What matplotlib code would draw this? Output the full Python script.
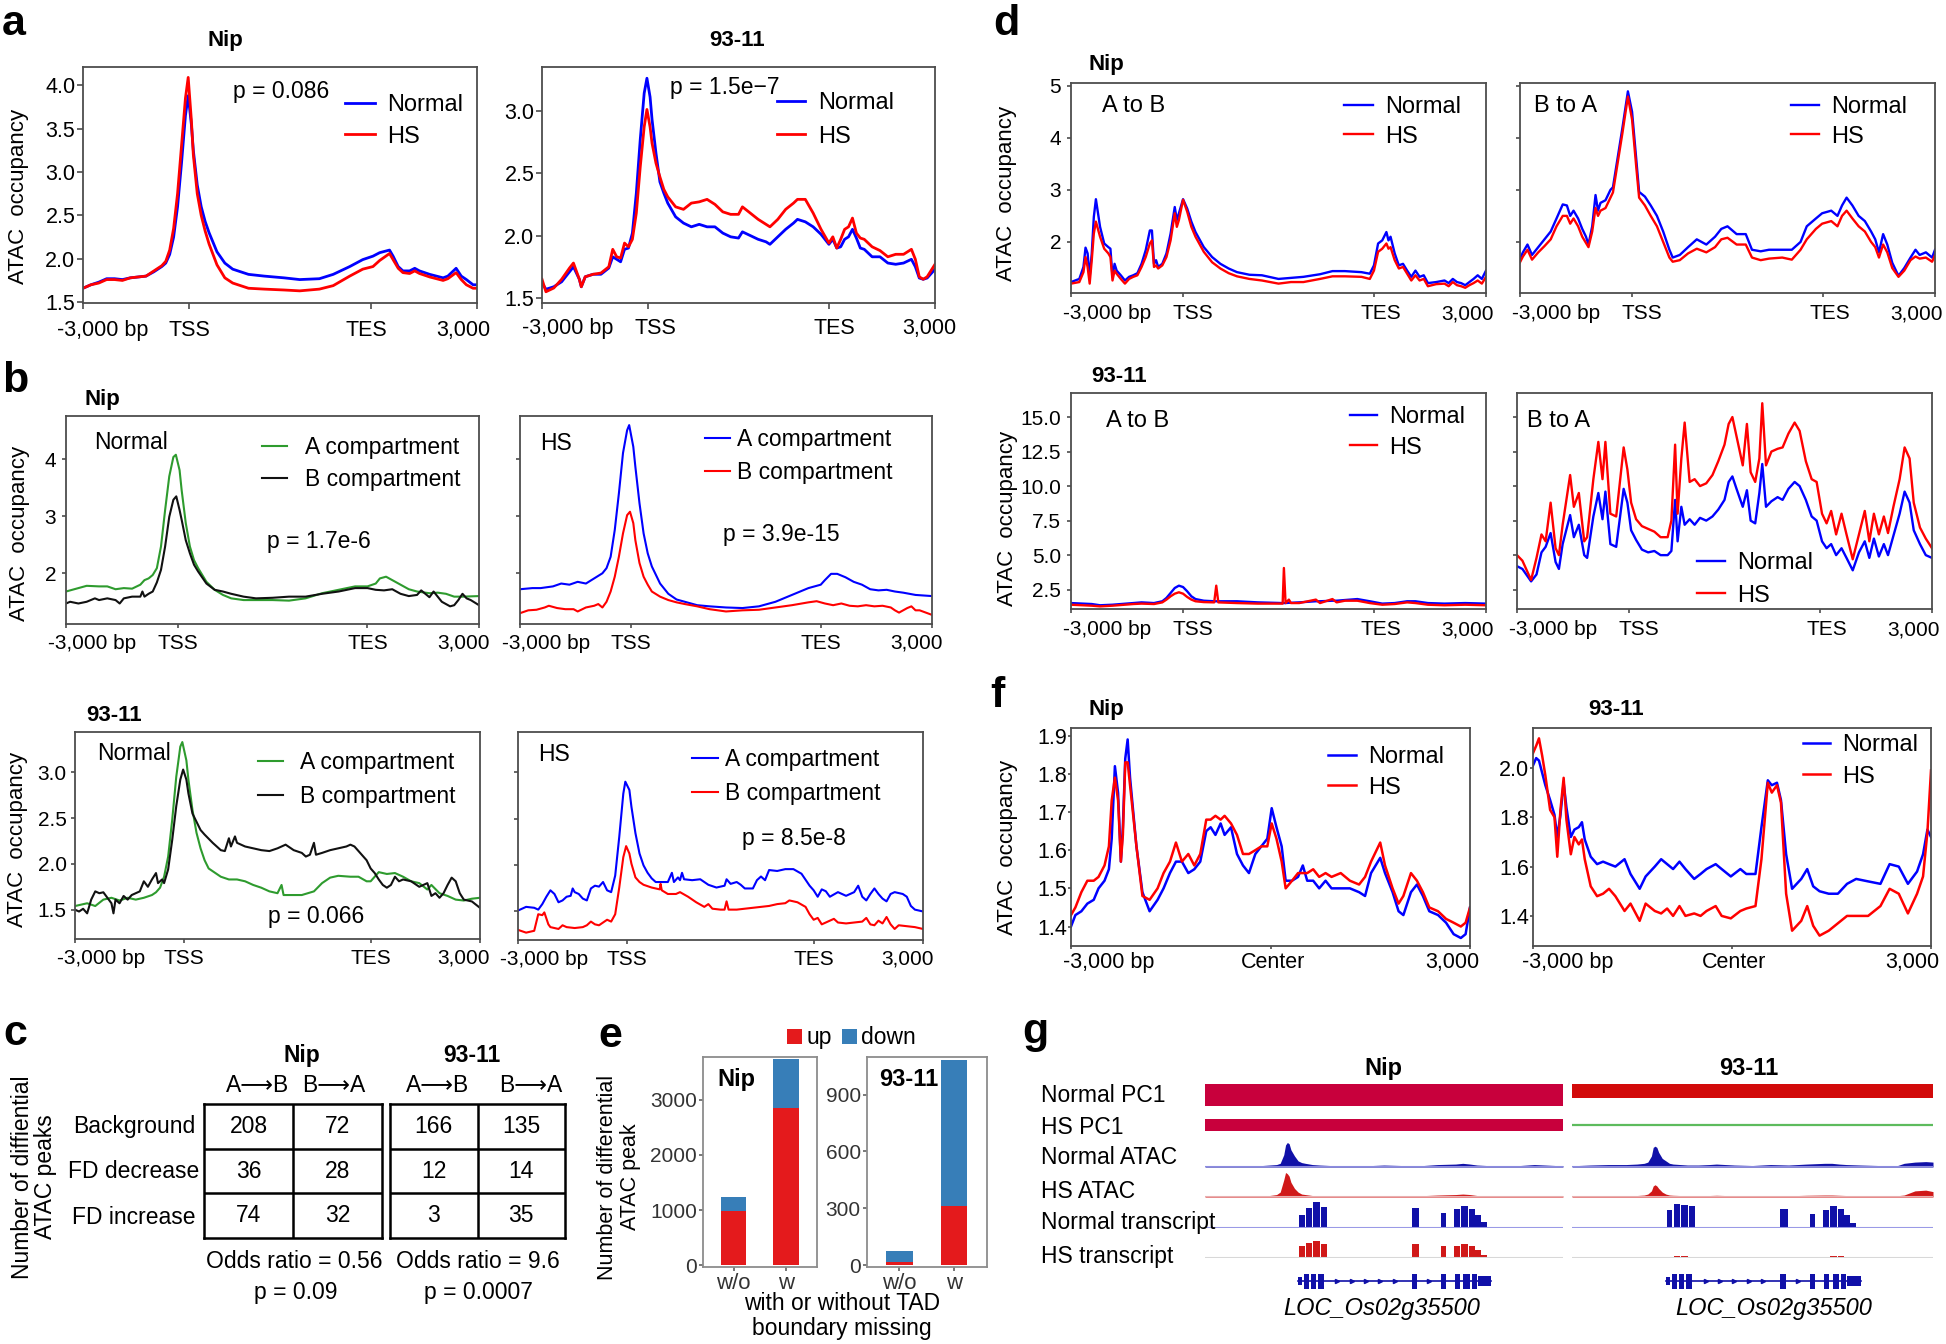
import numpy as np
import matplotlib
matplotlib.use("Agg")
import matplotlib.pyplot as plt
from matplotlib.transforms import ScaledTranslation

plt.rcParams['font.family'] = ['Liberation Sans', 'DejaVu Sans']

# ======================= DATA =======================
GENE_TICKS = [0, 27, 73, 100]
GENE_LABELS = ["-3,000 bp", "TSS", "TES", "3,000"]
CENTER_TICKS = [0, 50, 100]
CENTER_LABELS = ["-3,000 bp", "Center", "3,000"]

# ---- a ----
a_nip_x = [0,2,4,6,8,10,12,14,16,18,20,21,22,23,24,25,26,26.7,27.5,28,29,30,31,32,34,36,38,42,46,51,55,60,63.5,67.7,71,73.6,75.3,77.8,78.7,80,81.2,82.9,84.2,85.4,88,89.7,91.4,92.6,94.7,96,97.3,99,100]
a_nip_normal = [1.66,1.70,1.73,1.77,1.77,1.76,1.78,1.79,1.80,1.85,1.91,1.95,2.05,2.25,2.6,3.1,3.65,3.88,3.55,3.25,2.85,2.6,2.43,2.3,2.08,1.95,1.88,1.82,1.80,1.78,1.76,1.77,1.82,1.91,1.99,2.03,2.07,2.10,2.03,1.91,1.86,1.86,1.89,1.86,1.82,1.80,1.78,1.80,1.89,1.80,1.76,1.70,1.70]
a_nip_hs = [1.66,1.70,1.72,1.76,1.76,1.75,1.78,1.79,1.80,1.86,1.92,1.97,2.1,2.35,2.75,3.3,3.85,4.09,3.6,3.2,2.75,2.5,2.32,2.17,1.93,1.78,1.72,1.66,1.65,1.64,1.63,1.65,1.69,1.80,1.88,1.91,1.98,2.06,1.99,1.89,1.84,1.83,1.86,1.83,1.79,1.77,1.75,1.77,1.84,1.76,1.70,1.66,1.66]

a_93_x = [0,1,3,5,7,8,9.5,10,11,13,15,17,18,19,20,21,22,23,24,25,26,26.7,27.5,28,29,30,31,32,34,36,38,40,42,44,46,48,50,51,53,55,57,58,60,62,64,65,67,69,71,73,74,75,76,77,78,79,80,81,82,84,86,88,90,92,94,95,96,97,98,100]
a_93_normal = [1.62,1.57,1.59,1.63,1.71,1.75,1.65,1.59,1.67,1.69,1.69,1.74,1.83,1.81,1.79,1.89,1.90,2.02,2.34,2.77,3.14,3.26,3.11,2.93,2.66,2.43,2.34,2.26,2.15,2.10,2.07,2.09,2.07,2.07,2.02,1.99,1.98,2.03,2.0,1.97,1.95,1.93,1.99,2.05,2.10,2.13,2.11,2.07,2.01,1.93,1.97,1.90,1.91,1.97,1.99,2.05,1.98,1.90,1.89,1.83,1.83,1.78,1.77,1.78,1.81,1.75,1.66,1.65,1.66,1.73]
a_93_hs = [1.65,1.55,1.58,1.65,1.74,1.78,1.65,1.59,1.67,1.69,1.70,1.75,1.89,1.83,1.82,1.94,1.91,1.97,2.18,2.55,2.87,3.01,2.87,2.74,2.58,2.47,2.37,2.31,2.23,2.21,2.26,2.27,2.29,2.25,2.19,2.17,2.17,2.23,2.18,2.13,2.09,2.07,2.13,2.21,2.26,2.29,2.29,2.18,2.05,1.94,1.99,1.90,1.97,2.05,2.07,2.14,2.02,1.98,1.97,1.91,1.88,1.83,1.85,1.85,1.89,1.81,1.67,1.65,1.67,1.77]

# ---- b ----
b_nipN_A_x = [0,3,5,8,10,12,14,16,18,19,20,21,22,23,24,25,26,26.6,27.5,28,29,30,31,32,34,36,38,40,43,46,50,54,58,62,66,70,73,75,76,77.5,79,81,83,85,88,90,92,94,96,100]
b_nipN_A = [1.68,1.74,1.78,1.77,1.77,1.72,1.74,1.73,1.80,1.88,1.91,1.97,2.09,2.47,3.11,3.70,4.04,4.08,3.81,3.46,2.88,2.47,2.23,2.09,1.85,1.71,1.62,1.56,1.53,1.53,1.53,1.52,1.56,1.65,1.71,1.77,1.77,1.82,1.91,1.94,1.88,1.80,1.72,1.68,1.65,1.66,1.64,1.59,1.59,1.60]
b_nipN_B_x = [0,1,3,5,7,8,10,12,13,14,16,18,18.5,19,20,21,22,23,24,25,26,26.7,27.5,28,29,30,31,32,34,36,38,40,43,46,50,54,58,62,66,70,73,75,77,79,81,83,85,86,88,89,91,93,94,95,96,97,98,100]
b_nipN_B = [1.47,1.50,1.47,1.50,1.56,1.53,1.56,1.53,1.47,1.56,1.59,1.59,1.68,1.59,1.64,1.68,1.84,2.06,2.47,2.99,3.29,3.35,3.11,2.94,2.58,2.35,2.15,2.03,1.82,1.71,1.68,1.64,1.59,1.56,1.57,1.59,1.59,1.64,1.68,1.74,1.74,1.71,1.70,1.72,1.64,1.60,1.62,1.70,1.58,1.68,1.50,1.42,1.44,1.53,1.64,1.56,1.53,1.44]
b_nipH_A_x = [0,3,5,8,10,12,14,16,18,20,21,22,23,24,25,26,26.5,27.5,28,29,30,31,32,34,36,38,40,43,46,50,54,58,62,66,70,73,74,75.5,77,79,81,83,85,87,89,91,93,96,100]
b_nipH_A = [1.72,1.74,1.74,1.77,1.82,1.80,1.85,1.82,1.91,2.0,2.09,2.29,2.76,3.40,4.11,4.51,4.60,4.22,3.87,3.23,2.70,2.35,2.12,1.82,1.64,1.54,1.50,1.44,1.42,1.40,1.39,1.42,1.50,1.62,1.74,1.80,1.88,1.99,1.99,1.93,1.85,1.80,1.72,1.70,1.71,1.68,1.66,1.62,1.60]
b_nipH_B_x = [0,2,4,6,7,9,11,13,14,16,18,19,20,21,22,23,24,25,26,26.7,27.5,28,29,30,31,32,34,36,38,40,43,46,50,54,58,62,66,70,72,74,76,78,80,82,84,86,88,90,91,92,94,95,96,97,100]
b_nipH_B = [1.30,1.35,1.36,1.40,1.43,1.39,1.37,1.37,1.33,1.40,1.43,1.46,1.40,1.50,1.68,1.94,2.29,2.70,3.02,3.08,2.88,2.58,2.18,1.94,1.80,1.68,1.59,1.53,1.49,1.46,1.42,1.37,1.33,1.35,1.36,1.40,1.44,1.49,1.51,1.47,1.44,1.47,1.43,1.42,1.44,1.42,1.43,1.40,1.35,1.31,1.39,1.42,1.35,1.35,1.27]

b_93N_A_x = [0,3,5,7,9,11,13,15,17,19,20,21,22,23,24,25,26,26.5,27.5,28,29,30,31,32,33,34,36,38,40,42,44,46,48,50,51,51.5,53,56,59,61,63,65,68,70,72,73,74,75,77,79,81,83,85,87,88,90,92,94,96,98,100]
b_93N_A = [1.54,1.57,1.54,1.61,1.63,1.60,1.63,1.61,1.63,1.66,1.69,1.74,1.86,2.08,2.48,2.95,3.28,3.33,3.13,2.92,2.59,2.34,2.17,2.04,1.95,1.92,1.86,1.83,1.83,1.81,1.77,1.74,1.70,1.68,1.77,1.66,1.66,1.66,1.70,1.79,1.85,1.87,1.86,1.86,1.81,1.81,1.86,1.91,1.89,1.90,1.86,1.81,1.79,1.72,1.77,1.68,1.65,1.61,1.60,1.62,1.63]
b_93N_B_x = [0,1,2,3,4,5,6,7,8,9,9.5,10,11,12,13,14,15,16,17,18,19,20,20.5,21.5,22,23,24,25,26,26.7,27.5,28,29,30,31,32,34,36,37,38,38.5,39.5,40,42,44,46,48,50,52,54,56,57,58,59,59.5,61,63,65,67,68,69,70,72,73,74,75,76,77,78,79,80,81,83,85,87,88,89,90,91,92,93,94,95,96,98,100]
b_93N_B = [1.50,1.48,1.51,1.46,1.61,1.70,1.68,1.69,1.63,1.57,1.46,1.61,1.57,1.65,1.61,1.66,1.68,1.70,1.81,1.75,1.83,1.90,1.79,1.83,1.79,1.94,2.26,2.63,2.92,3.03,2.92,2.77,2.55,2.46,2.37,2.32,2.23,2.15,2.14,2.28,2.19,2.30,2.23,2.19,2.17,2.15,2.14,2.17,2.21,2.15,2.12,2.08,2.10,2.23,2.10,2.12,2.15,2.17,2.19,2.21,2.19,2.14,2.04,1.95,1.90,1.83,1.77,1.74,1.77,1.86,1.81,1.83,1.81,1.75,1.79,1.65,1.68,1.63,1.68,1.77,1.85,1.81,1.68,1.61,1.59,1.52]
b_93H_A_x = [0,2,4,5,6,7,8,9,10,11,12,13,13.5,14,15,16,17,18,19,20,21,22,23,24,25,26,26.5,27.5,28,29,30,31,32,33,34,35,37,38,38.5,39.5,40,40.5,41,43,45,47,49,51,51.5,52.5,54,55,56,58,59,60,61,62,64,66,68,70,72,73,74,75,76,77,79,81,83,84,85,86,87,88,89,90,91,92,93,95,96,97,98,100]
b_93H_A = [1.50,1.54,1.53,1.51,1.57,1.65,1.72,1.68,1.59,1.61,1.65,1.66,1.74,1.70,1.68,1.63,1.61,1.74,1.77,1.76,1.81,1.72,1.70,1.88,2.30,2.77,2.90,2.81,2.63,2.34,2.12,1.99,1.91,1.85,1.81,1.81,1.81,1.91,1.81,1.86,1.83,1.91,1.84,1.83,1.84,1.78,1.75,1.77,1.84,1.79,1.81,1.78,1.74,1.74,1.83,1.87,1.83,1.94,1.93,1.95,1.95,1.90,1.77,1.72,1.65,1.73,1.71,1.65,1.70,1.66,1.70,1.77,1.65,1.61,1.68,1.74,1.68,1.63,1.60,1.68,1.70,1.68,1.65,1.55,1.51,1.49]
b_93H_B_x = [0,2,4,5,6,6.5,7.5,8,10,11,12,14,16,17,18,19,20,21,22,23,24,25,26,26.7,27.5,28,29,30,31,33,35,35.2,35.5,37,39,40,42,44,46,47,48,50,51,51.5,52,54,56,58,60,62,64,66,67,69,71,72,73,74,75,76,78,79,81,83,85,86,87,88,89,90,91,92,93,94,96,98,100]
b_93H_B = [1.29,1.26,1.28,1.46,1.45,1.48,1.35,1.32,1.30,1.34,1.32,1.31,1.32,1.34,1.38,1.35,1.34,1.37,1.40,1.38,1.46,1.75,2.08,2.20,2.12,2.01,1.86,1.81,1.78,1.75,1.73,1.79,1.72,1.68,1.68,1.70,1.65,1.59,1.54,1.57,1.52,1.51,1.51,1.60,1.51,1.51,1.52,1.53,1.54,1.55,1.57,1.58,1.61,1.59,1.54,1.46,1.40,1.42,1.35,1.37,1.41,1.37,1.36,1.37,1.38,1.42,1.35,1.34,1.39,1.36,1.43,1.35,1.30,1.34,1.33,1.32,1.30]

# ---- c ----
c_rows = ["Background", "FD decrease", "FD increase"]
c_cols = ["A\u27F6B", "B\u27F6A"]
c_nip = [[208, 72], [36, 28], [74, 32]]
c_93 = [[166, 135], [12, 14], [3, 35]]
c_nip_stats = ["Odds ratio = 0.56", "p = 0.09"]
c_93_stats = ["Odds ratio = 9.6", "p = 0.0007"]

# ---- d ----
d_nip_ab_x = [0,2,3,3.5,4,4.5,5,5.5,6,7,8,9,9.5,10,10.5,11,12,13,14,15,16,17,18,19,19.5,20,20.5,21,22,23,24,25,25.5,26,27,28,29,30,32,34,36,38,40,43,46,50,53,56,60,63,66,70,72,73,74,75,76,76.5,77,78,79,80,81,82,83,84,85,86,88,90,91,92,93,94,95,96,97,98,99,100]
d_nip_ab_normal = [1.23,1.29,1.52,1.89,1.78,1.33,1.78,2.48,2.82,2.29,1.97,1.90,1.87,1.33,1.58,1.45,1.36,1.26,1.33,1.36,1.40,1.58,1.84,2.22,2.22,1.58,1.65,1.52,1.58,1.78,2.16,2.67,2.42,2.55,2.82,2.64,2.39,2.19,1.90,1.71,1.58,1.49,1.42,1.37,1.36,1.29,1.31,1.33,1.38,1.44,1.44,1.42,1.39,1.55,1.97,2.03,2.19,2.03,2.10,1.78,1.55,1.58,1.45,1.33,1.45,1.33,1.36,1.21,1.23,1.26,1.21,1.29,1.23,1.21,1.17,1.23,1.29,1.36,1.29,1.45]
d_nip_ab_hs = [1.20,1.23,1.42,1.71,1.52,1.20,1.65,2.16,2.39,2.10,1.87,1.78,1.71,1.26,1.45,1.39,1.29,1.20,1.29,1.33,1.36,1.52,1.71,1.97,2.03,1.52,1.55,1.49,1.55,1.71,2.03,2.55,2.29,2.42,2.81,2.58,2.29,2.10,1.81,1.61,1.49,1.40,1.34,1.29,1.26,1.20,1.23,1.23,1.29,1.34,1.34,1.33,1.29,1.45,1.81,1.87,1.97,1.87,1.90,1.65,1.49,1.52,1.39,1.26,1.36,1.26,1.29,1.15,1.19,1.20,1.15,1.23,1.17,1.15,1.12,1.17,1.21,1.26,1.20,1.33]
d_nip_ba_x = [0,0.7,1.8,2.9,4.4,5.9,7.4,8.8,10.3,11.3,12.1,12.9,14,15,15.9,16.5,17.4,18.2,18.8,19.4,20.6,21.8,22.4,23.5,24.7,26,27,28,28.7,30.1,31.5,33,34.5,36,36.8,38.5,40.5,42.6,44.9,47,48.5,50,52.2,54.4,55.9,58,60,63.2,65.5,67.6,69.1,71.3,72.8,75,76.5,77.6,78.7,80.1,81.6,83.1,84.6,85.6,86.5,87.5,88.5,89.7,91.2,92.6,94.1,95.3,96.3,97.8,99.3,100]
d_nip_ba_normal = [1.68,1.8,1.95,1.75,1.9,2.05,2.2,2.45,2.72,2.7,2.5,2.6,2.45,2.25,2.1,1.95,2.3,2.9,2.6,2.75,2.8,3.0,3.05,3.6,4.2,4.89,4.5,3.6,2.96,2.87,2.7,2.5,2.2,1.85,1.7,1.75,1.9,2.05,1.95,2.1,2.25,2.3,2.15,2.15,1.85,1.82,1.85,1.85,1.85,2.0,2.3,2.45,2.55,2.6,2.5,2.7,2.85,2.7,2.5,2.4,2.2,2.05,1.8,2.15,1.95,1.6,1.35,1.5,1.7,1.85,1.75,1.8,1.7,1.85]
d_nip_ba_hs = [1.61,1.72,1.85,1.66,1.8,1.92,2.05,2.3,2.5,2.5,2.35,2.45,2.3,2.1,1.98,1.9,2.2,2.65,2.5,2.6,2.65,2.85,2.95,3.5,4.1,4.79,4.35,3.45,2.85,2.7,2.5,2.3,2.0,1.7,1.62,1.65,1.78,1.87,1.8,1.9,2.05,2.08,1.95,1.95,1.7,1.65,1.68,1.7,1.66,1.85,2.05,2.25,2.35,2.4,2.3,2.5,2.6,2.45,2.3,2.2,2.0,1.9,1.7,1.95,1.8,1.5,1.33,1.45,1.65,1.72,1.68,1.7,1.62,1.75]
d_93_ab_x = [0,5,7,10,15,17,20,22,23,24,25,26,27,28,29,30,32,34.5,35,35.5,40,45,51,51.3,51.7,52.5,53,55,59,60,63,64,66,69,72,75,78,81,83,86,90,95,100]
d_93_ab_normal = [1.53,1.46,1.37,1.41,1.53,1.58,1.53,1.66,1.90,2.26,2.62,2.79,2.69,2.38,2.02,1.82,1.70,1.66,1.66,1.66,1.66,1.58,1.53,1.53,1.53,1.55,1.55,1.58,1.66,1.66,1.70,1.70,1.75,1.82,1.66,1.49,1.53,1.66,1.66,1.53,1.49,1.53,1.49]
d_93_ab_hs = [1.41,1.34,1.29,1.34,1.46,1.49,1.46,1.58,1.78,2.02,2.21,2.31,2.21,1.97,1.78,1.66,1.60,1.58,2.79,1.58,1.53,1.49,1.49,4.07,1.53,1.78,1.53,1.53,1.78,1.53,1.82,1.58,1.70,1.70,1.53,1.41,1.46,1.58,1.53,1.41,1.37,1.41,1.37]
d_93_ba_x = [0,1.3,3.4,4.7,5.9,6.9,8.1,9.3,10.1,11.0,12.8,13.7,14.9,16.2,16.9,18.4,19.6,20.6,21.3,22.5,23.9,25.7,26.6,27.5,28.7,30.1,31.6,33.1,34.6,36.3,37.2,38.1,38.7,39.6,40.4,41.6,42.8,44.1,45.6,47.1,48.5,50.0,51.0,51.9,52.9,54.4,55.4,56.3,57.4,58.4,59.1,60.0,61.3,62.8,64.0,65.4,66.9,68.1,69.6,71.0,72.2,73.5,74.6,75.7,76.9,78.2,79.4,80.9,82.4,83.8,84.9,86.0,87.2,88.4,89.4,90.7,92.2,93.4,94.6,95.6,97.1,98.5,100]
d_93_ba_normal = [4.2,4.0,3.1,3.6,5.2,5.6,6.6,4.5,4.0,5.8,7.9,6.3,7.2,5.0,4.8,7.8,9.5,7.6,9.6,5.8,5.6,9.8,8.8,6.8,6.1,5.4,5.2,5.3,5.0,5.0,5.3,9.0,6.0,8.5,7.2,7.6,7.2,7.7,7.5,7.8,8.3,9.0,10.3,10.7,9.8,8.5,9.7,7.5,7.3,9.5,11.6,8.5,8.9,9.2,9.0,9.8,10.3,10.0,9.0,7.8,7.5,6.0,5.5,5.8,5.0,5.5,4.8,3.9,5.2,6.0,4.8,6.2,4.9,5.8,5.0,6.4,8.0,9.6,8.8,6.8,5.8,5.0,4.8]
d_93_ba_hs = [5.0,4.6,3.2,4.8,6.5,6.0,8.8,5.5,5.0,7.2,10.8,8.5,9.5,6.0,6.3,10.5,13.2,10.5,13.2,8.0,7.8,12.8,11.2,8.8,7.6,7.1,6.9,6.7,6.3,6.3,7.5,13.0,8.0,12.0,14.6,10.3,10.5,10.0,10.2,10.8,11.8,13.0,14.5,15.0,13.6,11.5,14.5,11.0,10.3,12.0,16.0,11.5,12.5,12.7,12.8,13.8,14.6,14.0,11.8,10.5,10.3,8.0,7.3,8.2,6.5,8.0,6.5,4.7,6.5,8.2,6.0,8.0,6.5,7.8,6.6,8.5,10.5,12.8,12.0,8.8,7.0,6.2,5.5]

# ---- e ----
e_cats = ["w/o", "w"]
e_nip_up = [978, 2849]
e_nip_down = [259, 881]
e_93_up = [19, 313]
e_93_down = [57, 771]

# ---- f ----
f_nip_x = [0,1.1,2.6,4.1,5.7,6.9,8.4,9.5,10.2,11.0,11.8,12.5,13.0,13.6,14.2,14.8,16.4,17.9,19.7,21.7,23.2,24.8,26.3,27.8,29.4,30.9,32.4,33.9,35.0,36.2,37.5,38.5,40.1,41.6,43.1,44.6,46.2,47.7,49.2,50.3,51.5,52.8,53.8,55.4,56.9,58.1,59.2,60.7,62.2,63.8,65.3,67.6,69.9,72.2,73.7,75.2,77.5,78.7,80.6,82.1,83.3,85.2,86.7,88.2,89.8,92.0,94.0,95.9,97.7,98.9,100]
f_nip_normal = [1.40,1.43,1.44,1.46,1.47,1.50,1.52,1.55,1.63,1.82,1.75,1.57,1.66,1.84,1.89,1.79,1.61,1.49,1.44,1.47,1.50,1.54,1.57,1.57,1.54,1.55,1.57,1.65,1.66,1.64,1.67,1.64,1.66,1.59,1.56,1.54,1.59,1.61,1.63,1.71,1.66,1.61,1.52,1.52,1.53,1.56,1.52,1.52,1.50,1.52,1.50,1.50,1.50,1.49,1.48,1.54,1.58,1.54,1.49,1.44,1.43,1.49,1.51,1.48,1.44,1.43,1.41,1.38,1.37,1.38,1.45]
f_nip_hs = [1.43,1.45,1.49,1.52,1.52,1.53,1.56,1.61,1.73,1.79,1.73,1.57,1.64,1.83,1.83,1.77,1.61,1.48,1.47,1.50,1.54,1.57,1.62,1.57,1.59,1.56,1.59,1.68,1.68,1.69,1.68,1.69,1.67,1.64,1.59,1.59,1.60,1.61,1.61,1.67,1.63,1.57,1.50,1.52,1.54,1.54,1.54,1.55,1.53,1.54,1.53,1.54,1.52,1.51,1.53,1.57,1.62,1.56,1.50,1.46,1.48,1.54,1.52,1.49,1.45,1.44,1.42,1.41,1.40,1.41,1.45]
f_93_x = [0,0.8,1.5,2.3,3.1,4.3,5.4,6.1,6.9,7.7,8.4,9.5,10.4,11.5,12.3,13.0,14.5,16.1,17.6,19.1,20.7,23.0,24.5,26.8,28.3,30.6,32.2,33.7,35.2,36.8,38.3,40.5,42.1,43.6,45.9,47.4,49.7,52.1,53.6,55.9,57.4,59.0,60.0,61.3,62.3,63.6,65.1,67.4,68.9,70.4,72.0,74.3,76.6,78.9,81.2,84.2,87.3,89.6,91.9,94.2,96.5,98.0,99.1,100]
f_93_normal = [2.01,2.04,2.03,1.98,1.93,1.87,1.81,1.72,1.81,1.94,1.84,1.72,1.75,1.76,1.78,1.71,1.64,1.61,1.62,1.61,1.60,1.63,1.57,1.51,1.56,1.60,1.63,1.61,1.59,1.62,1.59,1.55,1.57,1.59,1.61,1.59,1.56,1.59,1.57,1.57,1.76,1.95,1.93,1.94,1.87,1.65,1.51,1.55,1.59,1.52,1.50,1.49,1.49,1.53,1.55,1.54,1.53,1.61,1.60,1.53,1.58,1.65,1.75,1.72]
f_93_hs = [2.06,2.09,2.12,2.05,1.97,1.83,1.80,1.64,1.83,1.96,1.79,1.65,1.72,1.69,1.71,1.63,1.52,1.48,1.49,1.51,1.48,1.42,1.45,1.38,1.45,1.42,1.41,1.43,1.40,1.44,1.40,1.41,1.40,1.42,1.44,1.40,1.39,1.42,1.43,1.44,1.63,1.94,1.90,1.93,1.86,1.49,1.34,1.38,1.44,1.36,1.32,1.34,1.37,1.40,1.40,1.40,1.44,1.51,1.49,1.41,1.49,1.56,1.74,1.99]

# ---- g ----
g_track_names = ["Normal PC1", "HS PC1", "Normal ATAC", "HS ATAC", "Normal transcript", "HS transcript"]
g_pc1_normal = [0.92, 0.58]          # Nip, 93-11
g_pc1_hs = [0.86, 0.0]
g_atac_x = [0,5,10,15,18,20,21,22,22.5,23,23.5,24,25,26,27,28,30,32,35,38,40,45,50,55,60,65,70,72,74,76,80,85,88,90,92,95,98,100]
g_nip_atac_normal = [0.03,0.04,0.05,0.05,0.08,0.1,0.15,0.5,0.9,1.0,0.95,0.7,0.45,0.25,0.18,0.15,0.1,0.08,0.06,0.05,0.06,0.05,0.08,0.06,0.05,0.1,0.12,0.15,0.12,0.08,0.05,0.04,0.06,0.08,0.1,0.08,0.06,0.05]
g_nip_atac_hs = [0.03,0.03,0.04,0.04,0.06,0.1,0.2,0.7,1.0,0.95,0.85,0.6,0.35,0.2,0.12,0.1,0.06,0.05,0.04,0.04,0.05,0.04,0.04,0.04,0.05,0.08,0.1,0.12,0.1,0.06,0.04,0.03,0.04,0.06,0.05,0.06,0.05,0.04]
g_93_atac_normal = [0.05,0.08,0.1,0.1,0.12,0.15,0.2,0.45,0.8,0.85,0.8,0.6,0.35,0.25,0.15,0.12,0.1,0.08,0.08,0.1,0.12,0.08,0.06,0.1,0.08,0.12,0.15,0.15,0.12,0.1,0.08,0.06,0.05,0.05,0.15,0.2,0.22,0.2]
g_93_atac_hs = [0.03,0.04,0.05,0.06,0.06,0.08,0.12,0.25,0.45,0.5,0.45,0.35,0.2,0.12,0.08,0.07,0.06,0.05,0.05,0.06,0.07,0.05,0.05,0.06,0.05,0.07,0.08,0.08,0.07,0.06,0.05,0.04,0.04,0.05,0.08,0.25,0.28,0.22]
g_exon_start = [26.2,28.3,30.3,32.5,57.7,65.8,69.6,71.6,73.7,75.4,77.0]
g_exon_end = [27.8,30.0,32.0,34.1,59.7,67.4,71.2,73.4,75.4,77.0,78.7]
g_nip_tx_normal = [0.5,0.77,1.0,0.8,0.77,0.6,0.73,0.87,0.73,0.5,0.25]
g_nip_tx_hs = [0.47,0.6,0.67,0.55,0.56,0.47,0.47,0.53,0.45,0.3,0.12]
g_93_tx_normal = [0.7,0.95,0.9,0.85,0.72,0.55,0.7,0.85,0.75,0.5,0.2]
g_93_tx_hs = [0.05,0.07,0.07,0.05,0.05,0.04,0.05,0.06,0.06,0.04,0.02]
g_gene_span = [26.0, 80.0]
g_gene_start = [26.0,27.6,29.6,31.6,57.7,66.0,69.8,72.2,74.6,76.2]
g_gene_end = [27.2,29.0,31.0,33.2,59.2,67.3,71.3,73.9,75.9,80.0]
g_gene_h = [0.5,1,1,1,1,1,1,1,1,0.7]
g_gene_arrows = [37,41,45,49,53,62.5]
g_gene_name = "LOC_Os02g35500"

# ======================= FIGURE =======================
W, H = 1946, 1344
fig = plt.figure(figsize=(W / 100, H / 100), dpi=100)

BLUE = "#0000FF"; RED = "#FF0000"; GREEN = "#2E9B2E"; BLACK = "#111111"
SPINE = "#4d4d4d"


def px_ax(box):
    l, t, r, b = box
    return fig.add_axes([l / W, 1 - b / H, (r - l) / W, (b - t) / H])


def ftext(x, y, s, ha="left", va="baseline", **kw):
    return fig.text(x / W, 1 - y / H, s, ha=ha, va=va, **kw)


def place_legend(ax, box, hx0, hx1, tx, y1, y2, fs):
    l, t, r, b = box
    fpx = fs * 100 / 72.0
    top = y1 - 0.47 * fpx
    return ax.legend(loc="upper left", bbox_to_anchor=((hx0 - l) / (r - l), (b - top) / (b - t)),
                     frameon=False, fontsize=fs, handlelength=(hx1 - hx0) / fpx,
                     handletextpad=(tx - hx1) / fpx, labelspacing=max(0.0, (y2 - y1) / fpx - 0.94),
                     borderpad=0, borderaxespad=0)


def style_axes(ax, ylim, yticks, yfmt, show_ylab, xticks, xlabels, xoffs, fs, xpad, ypad, tlen):
    ax.set_xlim(0, 100)
    ax.set_ylim(*ylim)
    ax.set_yticks(yticks)
    ax.set_yticklabels([yfmt.format(v) for v in yticks] if show_ylab else [])
    ax.set_xticks(xticks)
    ax.set_xticklabels(xlabels)
    for sp in ax.spines.values():
        sp.set_color(SPINE)
        sp.set_linewidth(1.3)
    ax.tick_params(axis="both", direction="out", length=tlen, width=1.2, color=SPINE, labelsize=fs)
    ax.tick_params(axis="x", pad=xpad)
    ax.tick_params(axis="y", pad=ypad)
    for lab, dx in zip(ax.get_xticklabels(), xoffs):
        lab.set_transform(lab.get_transform() + ScaledTranslation(dx / 100.0, 0, fig.dpi_scale_trans))


def profile(box, series, lw):
    ax = px_ax(box)
    for x, y, c, lab in series:
        ax.plot(x, y, color=c, lw=lw, label=lab, solid_joinstyle="round")
    return ax

# ---------------- panel a ----------------
box = (83, 67, 477, 303)
ax = profile(box, [(a_nip_x, a_nip_normal, BLUE, "Normal"), (a_nip_x, a_nip_hs, RED, "HS")], 2.0)
style_axes(ax, (1.49, 4.21), [1.5, 2.0, 2.5, 3.0, 3.5, 4.0], "{:.1f}", True, GENE_TICKS, GENE_LABELS,
           [20, 0, -4, -14], 15.5, 8, 1.5, 4)
place_legend(ax, box, 345, 375, 387, 105, 137, 17)
ftext(233, 98, "p = 0.086", fontsize=16.5)

box = (542, 67, 935, 303)
ax = profile(box, [(a_93_x, a_93_normal, BLUE, "Normal"), (a_93_x, a_93_hs, RED, "HS")], 2.0)
style_axes(ax, (1.46, 3.35), [1.5, 2.0, 2.5, 3.0], "{:.1f}", True, GENE_TICKS, GENE_LABELS,
           [26, 7, 5, -6], 15.5, 7, 1.5, 4)
place_legend(ax, box, 777, 805, 818, 103, 137, 17)
ftext(670, 94, "p = 1.5e\u22127", fontsize=16.5)

ftext(2, 35, "a", fontsize=31, fontweight="bold")
ftext(225, 46, "Nip", ha="center", fontsize=16, fontweight="bold")
ftext(737, 46, "93-11", ha="center", fontsize=16, fontweight="bold")
ftext(19, 196, "ATAC  occupancy", ha="center", va="center", rotation=90, fontsize=16)

# ---------------- panel b ----------------
box = (66, 416, 479, 624)
ax = profile(box, [(b_nipN_A_x, b_nipN_A, GREEN, "A compartment"), (b_nipN_B_x, b_nipN_B, BLACK, "B compartment")], 1.5)
style_axes(ax, (1.11, 4.76), [2, 3, 4], "{:.0f}", True, GENE_TICKS, GENE_LABELS, [26, 0, 0, -16], 15, 4, 4, 3)
place_legend(ax, box, 262, 287, 305, 447, 477, 16.5)
ftext(94, 449, "Normal", fontsize=16.5)
ftext(267, 548, "p = 1.7e-6", fontsize=16.5)

box = (520, 416, 932, 624)
ax = profile(box, [(b_nipH_A_x, b_nipH_A, BLUE, "A compartment"), (b_nipH_B_x, b_nipH_B, RED, "B compartment")], 1.5)
style_axes(ax, (1.11, 4.76), [2, 3, 4], "{:.0f}", False, GENE_TICKS, GENE_LABELS, [26, 0, 0, -16], 15, 4, 4, 3)
place_legend(ax, box, 705, 730, 737, 439, 470, 16.5)
ftext(540, 450, "HS", fontsize=16.5)
ftext(723, 541, "p = 3.9e-15", fontsize=16.5)

box = (75, 732, 480, 939)
ax = profile(box, [(b_93N_A_x, b_93N_A, GREEN, "A compartment"), (b_93N_B_x, b_93N_B, BLACK, "B compartment")], 1.5)
style_axes(ax, (1.18, 3.44), [1.5, 2.0, 2.5, 3.0], "{:.1f}", True, GENE_TICKS, GENE_LABELS, [26, 0, 0, -16], 15, 4, 3, 3)
place_legend(ax, box, 258, 283, 300, 762, 794, 16.5)
ftext(97, 760, "Normal", fontsize=16.5)
ftext(268, 923, "p = 0.066", fontsize=16.5)

box = (518, 732, 923, 940)
ax = profile(box, [(b_93H_A_x, b_93H_A, BLUE, "A compartment"), (b_93H_B_x, b_93H_B, RED, "B compartment")], 1.5)
style_axes(ax, (1.18, 3.44), [1.5, 2.0, 2.5, 3.0], "{:.1f}", False, GENE_TICKS, GENE_LABELS, [26, 0, 0, -16], 15, 4, 3, 3)
place_legend(ax, box, 692, 718, 725, 759, 791, 16.5)
ftext(538, 761, "HS", fontsize=16.5)
ftext(742, 845, "p = 8.5e-8", fontsize=16.5)

ftext(2, 392, "b", fontsize=31, fontweight="bold")
ftext(85, 405, "Nip", fontsize=16, fontweight="bold")
ftext(86, 721, "93-11", fontsize=16, fontweight="bold")
ftext(20, 533, "ATAC  occupancy", ha="center", va="center", rotation=90, fontsize=16)
ftext(18, 839, "ATAC  occupancy", ha="center", va="center", rotation=90, fontsize=16)

# ---------------- panel c ----------------
def draw_table(box, counts):
    ax = px_ax(box)
    nrow, ncol = len(counts), len(counts[0])
    ax.set_xlim(0, ncol)
    ax.set_ylim(nrow, 0)
    for i in range(1, ncol):
        ax.axvline(i, color="k", lw=1.8)
    for j in range(1, nrow):
        ax.axhline(j, color="k", lw=1.8)
    for j, row in enumerate(counts):
        for i, v in enumerate(row):
            ax.text(i + 0.5, j + 0.5, str(v), ha="center", va="center", fontsize=16.5)
    ax.set_xticks([])
    ax.set_yticks([])
    for sp in ax.spines.values():
        sp.set_linewidth(1.8)
        sp.set_color("k")
    return ax

draw_table((204, 1104, 382, 1238), c_nip)
draw_table((390, 1104, 565, 1238), c_93)
for k, lab in enumerate(c_rows):
    ftext(134, 1126 + 45.5 * k, lab, ha="center", va="center", fontsize=16.5)
for cx, lab in zip([258, 334], c_cols):
    ftext(cx, 1085, lab, ha="center", va="center", fontsize=16.5)
for cx, lab in zip([438, 531], c_cols):
    ftext(cx, 1085, lab, ha="center", va="center", fontsize=16.5)
ftext(302, 1062, "Nip", ha="center", fontsize=16.5, fontweight="bold")
ftext(472, 1062, "93-11", ha="center", fontsize=16.5, fontweight="bold")
ftext(294, 1261, c_nip_stats[0], ha="center", va="center", fontsize=16.5)
ftext(296, 1293, c_nip_stats[1], ha="center", va="center", fontsize=16.5)
ftext(478, 1261, c_93_stats[0], ha="center", va="center", fontsize=16.5)
ftext(478, 1293, c_93_stats[1], ha="center", va="center", fontsize=16.5)
ftext(34, 1177, "Number of diffiential\nATAC peaks", ha="center", va="center", rotation=90,
      fontsize=16.5, linespacing=1.05)
ftext(3, 1045, "c", fontsize=31, fontweight="bold")

# ---------------- panel d ----------------
def d_style(ax, ylim, yticks, fmt, show):
    style_axes(ax, ylim, yticks, fmt, show, GENE_TICKS, GENE_LABELS, [36, 10, 7, -18], 15, 5, 4, 3)

box = (1071, 83, 1486, 293)
ax = profile(box, [(d_nip_ab_x, d_nip_ab_normal, BLUE, "Normal"), (d_nip_ab_x, d_nip_ab_hs, RED, "HS")], 1.7)
d_style(ax, (1.02, 5.05), [2, 3, 4, 5], "{:.0f}", True)
place_legend(ax, box, 1344, 1373, 1385, 107, 137, 17)
ftext(1102, 112, "A to B", fontsize=17)

box = (1520, 83, 1935, 293)
ax = profile(box, [(d_nip_ba_x, d_nip_ba_normal, BLUE, "Normal"), (d_nip_ba_x, d_nip_ba_hs, RED, "HS")], 1.7)
d_style(ax, (1.02, 5.05), [2, 3, 4, 5], "{:.0f}", False)
place_legend(ax, box, 1791, 1819, 1831, 107, 137, 17)
ftext(1534, 112, "B to A", fontsize=17)

box = (1071, 393, 1486, 609)
ax = profile(box, [(d_93_ab_x, d_93_ab_normal, BLUE, "Normal"), (d_93_ab_x, d_93_ab_hs, RED, "HS")], 1.7)
d_style(ax, (1.1, 16.74), [2.5, 5.0, 7.5, 10.0, 12.5, 15.0], "{:.1f}", True)
place_legend(ax, box, 1350, 1377, 1389, 417, 448, 17)
ftext(1106, 427, "A to B", fontsize=17)

box = (1517, 393, 1932, 609)
ax = profile(box, [(d_93_ba_x, d_93_ba_normal, BLUE, "Normal"), (d_93_ba_x, d_93_ba_hs, RED, "HS")], 1.7)
d_style(ax, (1.1, 16.74), [2.5, 5.0, 7.5, 10.0, 12.5, 15.0], "{:.1f}", False)
place_legend(ax, box, 1697, 1725, 1737, 563, 596, 17)
ftext(1527, 427, "B to A", fontsize=17)

ftext(993, 35, "d", fontsize=31, fontweight="bold")
ftext(1088, 70, "Nip", fontsize=16, fontweight="bold")
ftext(1091, 382, "93-11", fontsize=16, fontweight="bold")
ftext(1006, 193, "ATAC  occupancy", ha="center", va="center", rotation=90, fontsize=16)
ftext(1008, 518, "ATAC  occupancy", ha="center", va="center", rotation=90, fontsize=16)

# ---------------- panel e ----------------
E_RED = "#E41A1C"; E_BLUE = "#377EB8"

def e_panel(box, up, down, ylim, yticks, xlim, name, name_x):
    ax = px_ax(box)
    pos = np.arange(1, len(e_cats) + 1)
    b1 = ax.bar(pos, up, width=0.49, color=E_RED)
    b2 = ax.bar(pos, down, width=0.49, bottom=up, color=E_BLUE)
    ax.set_xlim(*xlim)
    ax.set_ylim(*ylim)
    ax.set_yticks(yticks)
    ax.set_yticklabels([str(v) for v in yticks])
    ax.set_xticks(pos)
    ax.set_xticklabels(e_cats)
    for sp in ax.spines.values():
        sp.set_color("#8c8c8c")
        sp.set_linewidth(1.3)
    ax.tick_params(axis="y", length=3, width=1.1, color="#555555", labelsize=15, labelcolor="#333333", pad=1.5)
    ax.tick_params(axis="x", length=3, width=1.1, color="#555555", labelsize=16, labelcolor="#333333", pad=1)
    ftext(name_x, 1086, name, fontsize=17, fontweight="bold")
    return ax, b1, b2

ax_e1, b1, b2 = e_panel((703, 1057, 817, 1267), e_nip_up, e_nip_down, (-30, 3772), [0, 1000, 2000, 3000],
                        (0.412, 2.597), "Nip", 717)
e_panel((867, 1057, 987, 1267), e_93_up, e_93_down, (-9, 1098), [0, 300, 600, 900], (0.404, 2.605), "93-11", 879)
fs = 16.5
fpx = fs * 100 / 72.0
ax_e1.legend([b1, b2], ["up", "down"], loc="upper left", ncol=2, frameon=False, fontsize=fs,
             bbox_to_anchor=((787 - 703) / 114.0, (1267 - (1037 - 0.47 * fpx)) / 210.0),
             handlelength=15 / fpx, handleheight=15 / fpx, handletextpad=5 / fpx, columnspacing=9 / fpx,
             borderpad=0, borderaxespad=0)
ftext(619, 1177, "Number of differential\nATAC peak", ha="center", va="center", rotation=90,
      fontsize=15.5, linespacing=1.15)
ftext(842, 1316, "with or without TAD\nboundary missing", ha="center", va="center", fontsize=16.5,
      linespacing=1.15)
ftext(598, 1047, "e", fontsize=31, fontweight="bold")

# ---------------- panel f ----------------
box = (1071, 728, 1470, 946)
ax = profile(box, [(f_nip_x, f_nip_normal, BLUE, "Normal"), (f_nip_x, f_nip_hs, RED, "HS")], 1.8)
style_axes(ax, (1.349, 1.92), [1.4, 1.5, 1.6, 1.7, 1.8, 1.9], "{:.1f}", True, CENTER_TICKS, CENTER_LABELS,
           [38, 3, -18], 15.5, 2, 1, 2)
place_legend(ax, box, 1328, 1356, 1368, 757, 788, 17)

box = (1533, 728, 1931, 946)
ax = profile(box, [(f_93_x, f_93_normal, BLUE, "Normal"), (f_93_x, f_93_hs, RED, "HS")], 1.8)
style_axes(ax, (1.278, 2.162), [1.4, 1.6, 1.8, 2.0], "{:.1f}", True, CENTER_TICKS, CENTER_LABELS,
           [35, 2, -19], 15.5, 2, 1, 2)
place_legend(ax, box, 1803, 1830, 1842, 745, 777, 17)

ftext(990, 707, "f", fontsize=31, fontweight="bold")
ftext(1088, 715, "Nip", fontsize=16, fontweight="bold")
ftext(1588, 715, "93-11", fontsize=16, fontweight="bold")
ftext(1008, 847, "ATAC  occupancy", ha="center", va="center", rotation=90, fontsize=16)

# ---------------- panel g ----------------
G_COLS = [(1205, 1563), (1572, 1933)]
NAVY = "#1010A8"; GRED = "#D01818"
PC1_COLORS = ["#C8003C", "#D20A0A"]

def track_ax(col, t, b):
    ax = px_ax((col[0], t, col[1], b))
    ax.set_xlim(0, 100)
    ax.axis("off")
    return ax

atac_normal = [g_nip_atac_normal, g_93_atac_normal]
atac_hs = [g_nip_atac_hs, g_93_atac_hs]
tx_normal = [g_nip_tx_normal, g_93_tx_normal]
tx_hs = [g_nip_tx_hs, g_93_tx_hs]
ex_w = [e - s for s, e in zip(g_exon_start, g_exon_end)]
gene_w = [e - s for s, e in zip(g_gene_start, g_gene_end)]

for k, col in enumerate(G_COLS):
    ax = track_ax(col, 1084, 1108)
    ax.set_ylim(1, 0)
    ax.bar([0], [g_pc1_normal[k]], width=100, align="edge", color=PC1_COLORS[k])
    ax = track_ax(col, 1119, 1133)
    ax.set_ylim(1, 0)
    if g_pc1_hs[k] > 0:
        ax.bar([0], [g_pc1_hs[k]], width=100, align="edge", color=PC1_COLORS[0])
    else:
        ax.axhline(0.45, color="#5DBB5D", lw=1.6)
    ax = track_ax(col, 1142, 1167)
    ax.set_ylim(0, 1.02)
    ax.fill_between(g_atac_x, 0, atac_normal[k], color=NAVY, lw=0)
    ax.axhline(0, color="#8c8ce0", lw=1.5)
    ax = track_ax(col, 1172, 1197)
    ax.set_ylim(0, 1.02)
    ax.fill_between(g_atac_x, 0, atac_hs[k], color=GRED, lw=0)
    ax.axhline(0, color="#e8b0b0", lw=1.5)
    ax = track_ax(col, 1201, 1228)
    ax.set_ylim(0, 1.05)
    ax.axhline(0, color="#9a9ae6", lw=1.5)
    ax.bar(g_exon_start, tx_normal[k], width=ex_w, align="edge", color=NAVY)
    ax = track_ax(col, 1231, 1258)
    ax.set_ylim(0, 1.05)
    ax.axhline(0, color="#d8d8d8", lw=1.5)
    ax.bar(g_exon_start, tx_hs[k], width=ex_w, align="edge", color=GRED)
    ax = track_ax(col, 1272, 1290)
    ax.set_ylim(-0.6, 0.6)
    ax.plot(g_gene_span, [0, 0], color=NAVY, lw=1.2)
    ax.bar(g_gene_start, g_gene_h, width=gene_w, bottom=[-h / 2 for h in g_gene_h], align="edge", color=NAVY)
    ax.plot(g_gene_arrows, [0] * len(g_gene_arrows), ls="none", marker=">", ms=3, color=NAVY)
    cx = (col[0] + col[1]) / 2
    ftext(cx - 2 + (0 if k == 0 else 23), 1308, g_gene_name, ha="center", va="center", fontsize=17, style="italic")

for k, name in enumerate(g_track_names):
    ftext(1041, [1095, 1128, 1158, 1192, 1223, 1257][k], name, va="center", fontsize=16.5)
ftext(1383, 1075, "Nip", ha="center", fontsize=17, fontweight="bold")
ftext(1749, 1075, "93-11", ha="center", fontsize=17, fontweight="bold")
ftext(1022, 1043, "g", fontsize=31, fontweight="bold")

fig.savefig("out.png", dpi=100)
